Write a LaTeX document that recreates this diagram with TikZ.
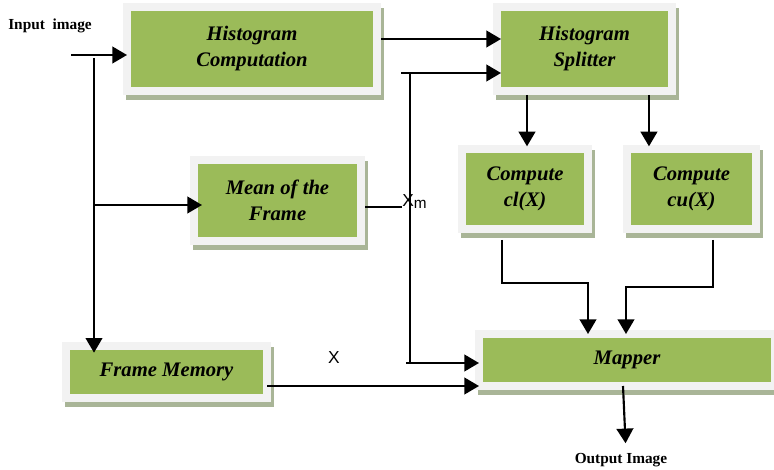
\documentclass[tikz,border=0pt]{standalone}
\usepackage{fontspec}
\setmainfont{Liberation Serif}
\newfontfamily\labelfont{Liberation Sans}
\usetikzlibrary{arrows.meta}
\definecolor{boxgreen}{HTML}{9BBB59}
\definecolor{boxrim}{HTML}{F2F2F2}
\definecolor{boxshade}{HTML}{A9B597}

\begin{document}
\begin{tikzpicture}[x=0.75pt,y=-0.75pt,
  block/.style={fill=boxgreen, draw=boxrim, line width=6pt, outer sep=0pt, inner sep=0pt, align=center,
    font=\bfseries\itshape\fontsize{15.5}{19.5}\selectfont,
    preaction={fill=boxshade, draw=boxshade, line width=6pt, transform canvas={shift={(2.25pt,-3.75pt)}}}},
  arr/.style={-{Triangle[length=11pt,width=12.5pt]}, line width=1.6pt},
  wire/.style={line width=1.6pt},
  tag/.style={font=\labelfont\fontsize{13}{15}\selectfont, inner sep=0pt},
  caption/.style={font=\bfseries\fontsize{11.5}{13}\selectfont, inner sep=0pt}]
\useasboundingbox (0,0) rectangle (774,470);

\node[block, minimum width=187.5pt, minimum height=63pt] (hcomp) at (252,49) {Histogram\\Computation};
\node[block, minimum width=131.25pt, minimum height=63pt] (hsplit) at (584.5,49) {Histogram\\Splitter};
\node[block, minimum width=94.5pt, minimum height=60pt] (cl) at (525,189) {Compute\\cl(X)};
\node[block, minimum width=96.75pt, minimum height=60pt] (cu) at (691.5,189) {Compute\\cu(X)};
\node[block, minimum width=125.25pt, minimum height=60.75pt] (mean) at (277.5,200.5) {Mean of the\\Frame};
\node[block, minimum width=150.75pt, minimum height=39pt] (fmem) at (166.5,372) {Frame Memory};
\node[block, minimum width=222pt, minimum height=39pt] (mapper) at (627,360) {Mapper};

\node[caption, anchor=base west] (inlabel) at (8,30) {Input\ \ image};
\node[caption, anchor=base] (outlabel) at (621,463) {Output Image};
\node[tag, anchor=base west] (xmlabel) at (402,207) {X\raisebox{-1.5pt}{\fontsize{11.5}{13}\selectfont m}};
\node[tag, anchor=base] (xlabel) at (334,363) {X};

\coordinate (inp) at (71,55);
\coordinate (tap) at (94,58);
\coordinate (fork) at (94,205);
\coordinate (xm) at (402,207);
\coordinate (fbin) at (401,73);
\coordinate (fb) at (410,73);
\coordinate (fbfoot) at (406,363);
\coordinate (clout) at (502,240);
\coordinate (cuout) at (713,240);

\draw[arr] (inp) -- (inp -| hcomp.west);
\draw[arr, shorten >=-5pt] (tap) -- (tap |- fmem.north);
\draw[arr, shorten >=-6pt] (fork) -- (fork -| mean.west);
\draw[arr, shorten <=3pt, shorten >=-3pt] ([yshift=7.5pt]hcomp.east) -- ([yshift=7.5pt]hsplit.west);
\draw[wire, shorten <=3pt] (xm -| mean.east) -- (xm);
\draw[arr, shorten >=-3pt] (fbin) -- (fbin -| hsplit.west);
\draw[wire] (fb) -- (fb |- fbfoot);
\draw[arr] (fbfoot) -- (fbfoot -| mapper.west);
\draw[arr, shorten <=3pt, shorten >=2pt] ([xshift=1.5pt]cl.north |- hsplit.south) -- ([xshift=1.5pt]cl.north);
\draw[arr, shorten <=3pt, shorten >=2pt] ([xshift=-31.9pt]cu.north |- hsplit.south) -- ([xshift=-31.9pt]cu.north);
\draw[arr] (clout) -- ++(0,43) -| ([xshift=-29.25pt]mapper.north);
\draw[arr] (cuout) -- ++(0,47) -| ([xshift=-0.75pt]mapper.north);
\draw[arr] ([yshift=-10.5pt]fmem.east) -- ([yshift=-10.5pt]fmem.east -| mapper.west);
\draw[arr, shorten >=7pt] ([xshift=-3pt]mapper.south) -- ([xshift=3.75pt]outlabel.north);
\end{tikzpicture}
\end{document}
